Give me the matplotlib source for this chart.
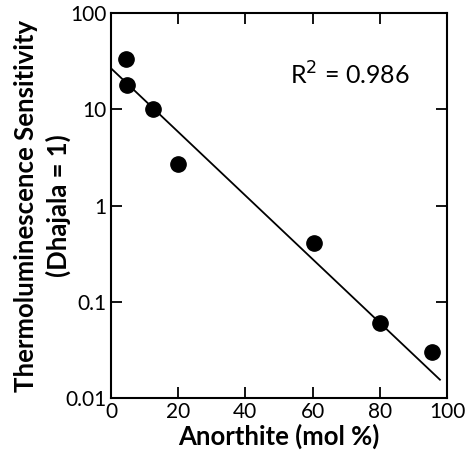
import matplotlib
matplotlib.use("Agg")
import matplotlib.pyplot as plt
from matplotlib.ticker import FixedLocator, FixedFormatter, NullLocator

anorthite = [4.5, 4.9, 12.4, 19.8, 60.5, 80.0, 95.4]
sensitivity = [33.5, 18.0, 10.1, 2.7, 0.41, 0.06, 0.03]
fit_x = [0, 97.9]
fit_y = [26.8, 0.0155]

xticks = [0, 20, 40, 60, 80, 100]
yticks = [0.01, 0.1, 1, 10, 100]
ytick_labels = ["0.01", "0.1", "1", "10", "100"]

plt.rcParams['font.family'] = ['Lato', 'DejaVu Sans']

fig = plt.figure(figsize=(4.65, 4.51), dpi=100)
ax = fig.add_axes([0.2387, 0.1175, 0.7226, 0.853])

ax.plot(fit_x, fit_y, color='black', lw=1.3, zorder=2)
ax.plot(anorthite, sensitivity, 'o', color='black', markersize=11, zorder=3)

ax.set_yscale('log')
ax.set_xlim(0, 100)
ax.set_ylim(0.01, 100)
ax.xaxis.set_major_locator(FixedLocator(xticks))
ax.yaxis.set_major_locator(FixedLocator(yticks))
ax.yaxis.set_major_formatter(FixedFormatter(ytick_labels))
ax.yaxis.set_minor_locator(NullLocator())

ax.tick_params(axis='both', which='major', direction='in', length=8, width=1.3,
               labelsize=15, top=True, right=True, pad=3)
for s in ax.spines.values():
    s.set_linewidth(1.5)

ax.set_xlabel("Anorthite (mol %)", fontsize=18.5, fontweight='bold', labelpad=1)
ax.set_ylabel("Thermoluminescence Sensitivity\n(Dhajala = 1)", fontsize=18.5,
              fontweight='bold', labelpad=-4, linespacing=1.35)

ax.text(0.71, 0.84, "R$^2$ = 0.986", transform=ax.transAxes, fontsize=18,
        ha='center', va='center')

fig.savefig("out.png", dpi=100)
